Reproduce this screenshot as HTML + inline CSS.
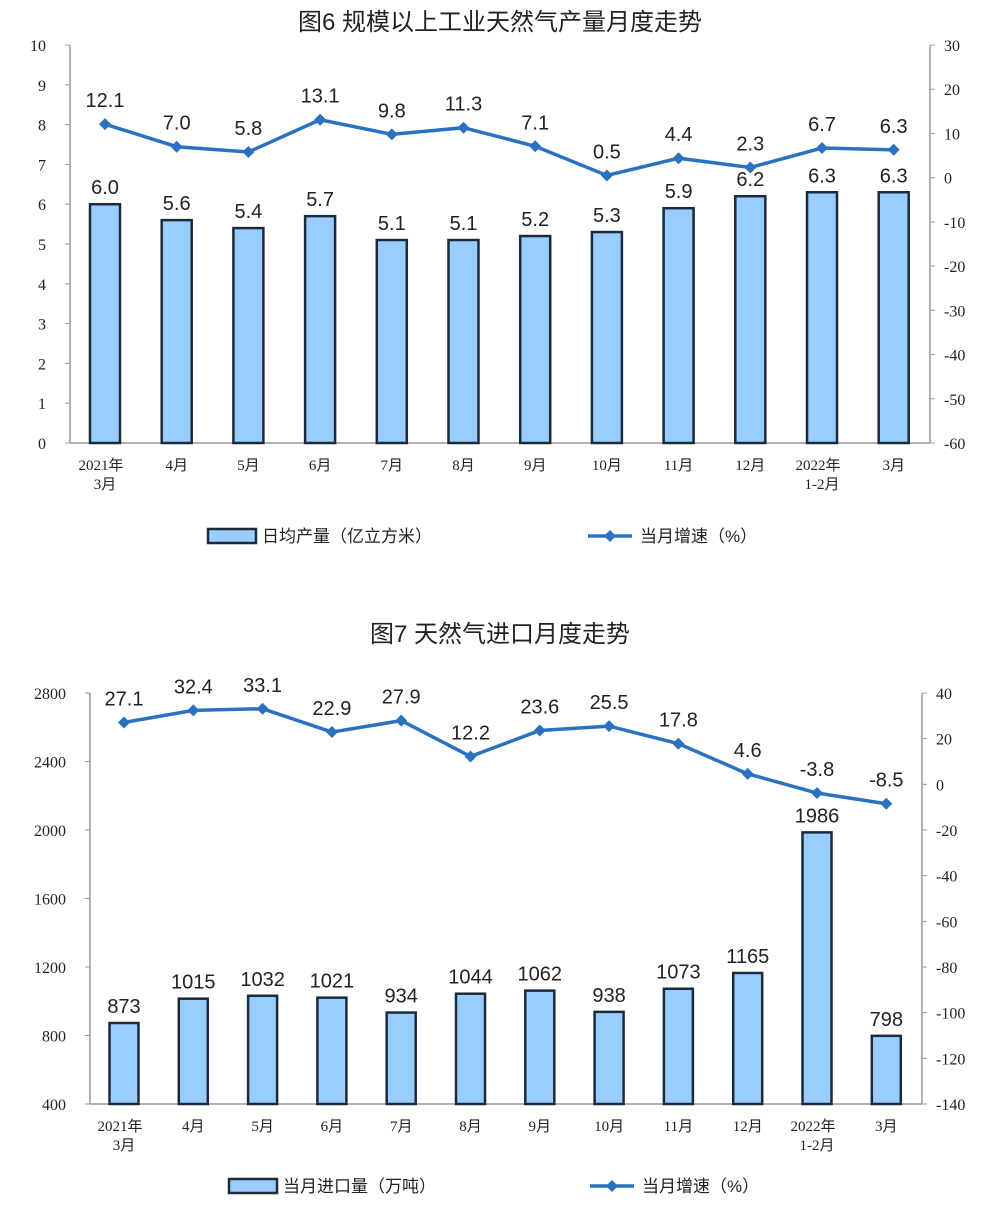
<!DOCTYPE html>
<html><head><meta charset="utf-8"><style>
body{margin:0;background:#fff;width:1000px;height:1207px;overflow:hidden}
svg{display:block}
.tk{font-family:"Liberation Serif","Noto Serif CJK SC",serif;font-size:16px;fill:#222}
.xl{font-family:"Liberation Serif","Noto Sans CJK SC",serif;font-size:15px;fill:#222}
.vl{font-family:"Liberation Sans",sans-serif;font-size:20px;fill:#222}
.tt{font-family:"Liberation Sans","Noto Sans CJK SC",sans-serif;font-size:24px;fill:#222}
.lg{font-family:"Liberation Sans","Noto Sans CJK SC",sans-serif;font-size:17px;fill:#222}
</style></head><body>
<svg id="s" width="1000" height="1207"></svg>
<script>
const cats1=["2021年|3月","4月","5月","6月","7月","8月","9月","10月","11月","12月","2022年|1-2月","3月"];
const prod1=[6.0,5.6,5.4,5.7,5.1,5.1,5.2,5.3,5.9,6.2,6.3,6.3];
const growth1=[12.1,7.0,5.8,13.1,9.8,11.3,7.1,0.5,4.4,2.3,6.7,6.3];
const leftTicks1=[0,1,2,3,4,5,6,7,8,9,10];
const rightTicks1=[30,20,10,0,-10,-20,-30,-40,-50,-60];
const cats2=cats1;
const imp2=[873,1015,1032,1021,934,1044,1062,938,1073,1165,1986,798];
const growth2=[27.1,32.4,33.1,22.9,27.9,12.2,23.6,25.5,17.8,4.6,-3.8,-8.5];
const leftTicks2=[400,800,1200,1600,2000,2400,2800];
const rightTicks2=[40,20,0,-20,-40,-60,-80,-100,-120,-140];
const NS="http://www.w3.org/2000/svg";
const svg=document.getElementById('s');
function mk(t,a,txt){const e=document.createElementNS(NS,t);for(const k in a)e.setAttribute(k,a[k]);if(txt!==undefined)e.textContent=txt;svg.appendChild(e);return e;}
function chart(o){
  const yL=v=>o.y0+(v-o.lmin)/(o.lmax-o.lmin)*(o.y1-o.y0);
  const yR=v=>o.y0+(v-o.rmin)/(o.rmax-o.rmin)*(o.y1-o.y0);
  const xC=i=>o.x0c+i*o.step;
  let t=mk('text',{x:500,y:o.ty,'text-anchor':'middle',class:'tt'},o.title);
  
  let a=mk('line',{x1:o.ax,y1:o.y0,x2:o.ax,y2:o.y1,stroke:'#999','stroke-width':1.5});
  
  a=mk('line',{x1:o.rx,y1:o.y0,x2:o.rx,y2:o.y1,stroke:'#999','stroke-width':1.5});
  
  a=mk('line',{x1:o.ax,y1:o.y0,x2:o.rx,y2:o.y0,stroke:'#999','stroke-width':1.5});
  
  o.lt.forEach(v=>{const y=yL(v);mk('line',{x1:o.ax-5,y1:y,x2:o.ax,y2:y,stroke:'#999'});
    const e=mk('text',{x:o.ax-24,y:y+6,'text-anchor':'end',class:'tk'},v);
    });
  o.rt.forEach(v=>{const y=yR(v);mk('line',{x1:o.rx,y1:y,x2:o.rx+5,y2:y,stroke:'#999'});
    const e=mk('text',{x:o.rx+14,y:y+6,class:'tk'},v);
    });
  o.cats.forEach((c,i)=>{const p=c.split('|');
    p.forEach((s,j)=>{const e=mk('text',{x:xC(i)+(j==0&&p.length>1?-4:0),y:o.y0+27+j*19,'text-anchor':'middle',class:'xl'},s);
      });
    const b=mk('rect',{x:xC(i)-o.bw/2,y:yL(o.bars[i]),width:o.bw,height:o.y0-yL(o.bars[i]),fill:'#99ccff',stroke:'#1c2b3a','stroke-width':2.5});
    
    const l=mk('text',{x:xC(i),y:yL(o.bars[i])-10,'text-anchor':'middle',class:'vl'},o.fmtB(o.bars[i]));
    
  });
  const pts=o.line.map((v,i)=>xC(i)+','+yR(v)).join(' ');
  const pl=mk('polyline',{points:pts,fill:'none',stroke:'#2a72c0','stroke-width':3.5});
  
  o.line.forEach((v,i)=>{const x=xC(i),y=yR(v);
    const d=mk('polygon',{points:`${x},${y-6} ${x+6},${y} ${x},${y+6} ${x-6},${y}`,fill:'#2a72c0'});
    
    const l=mk('text',{x:x,y:y-17,'text-anchor':'middle',class:'vl'},v.toFixed(1));
    });
  let r=mk('rect',{x:o.lgx,y:o.lgy-7,width:48,height:14,fill:'#99ccff',stroke:'#1c2b3a','stroke-width':2.5});
  
  t=mk('text',{x:o.lgx+54,y:o.lgy+6,class:'lg'},o.lg1);
  r=mk('line',{x1:o.lgx2,y1:o.lgy,x2:o.lgx2+44,y2:o.lgy,stroke:'#2a72c0','stroke-width':3.5});
  
  const cx=o.lgx2+22;mk('polygon',{points:`${cx},${o.lgy-6} ${cx+6},${o.lgy} ${cx},${o.lgy+6} ${cx-6},${o.lgy}`,fill:'#2a72c0'});
  t=mk('text',{x:o.lgx2+52,y:o.lgy+6,class:'lg'},'当月增速（%）');
}
chart({title:'图6  规模以上工业天然气产量月度走势',ty:30,ax:70,rx:930,y0:443,y1:45,lmin:0,lmax:10,rmin:-60,rmax:30,
  x0c:105,step:71.7,bw:30,cats:cats1,bars:prod1,line:growth1,lt:leftTicks1,rt:rightTicks1,fmtB:v=>v.toFixed(1),
  lg1:'日均产量（亿立方米）',lgx:208,lgy:536,lgx2:588});
chart({title:'图7  天然气进口月度走势',ty:642,ax:90,rx:922,y0:1104,y1:693,lmin:400,lmax:2800,rmin:-140,rmax:40,
  x0c:124,step:69.3,bw:29,cats:cats2,bars:imp2,line:growth2,lt:leftTicks2,rt:rightTicks2,fmtB:v=>String(v),
  lg1:'当月进口量（万吨）',lgx:229,lgy:1186,lgx2:590});
</script>
</body></html>
